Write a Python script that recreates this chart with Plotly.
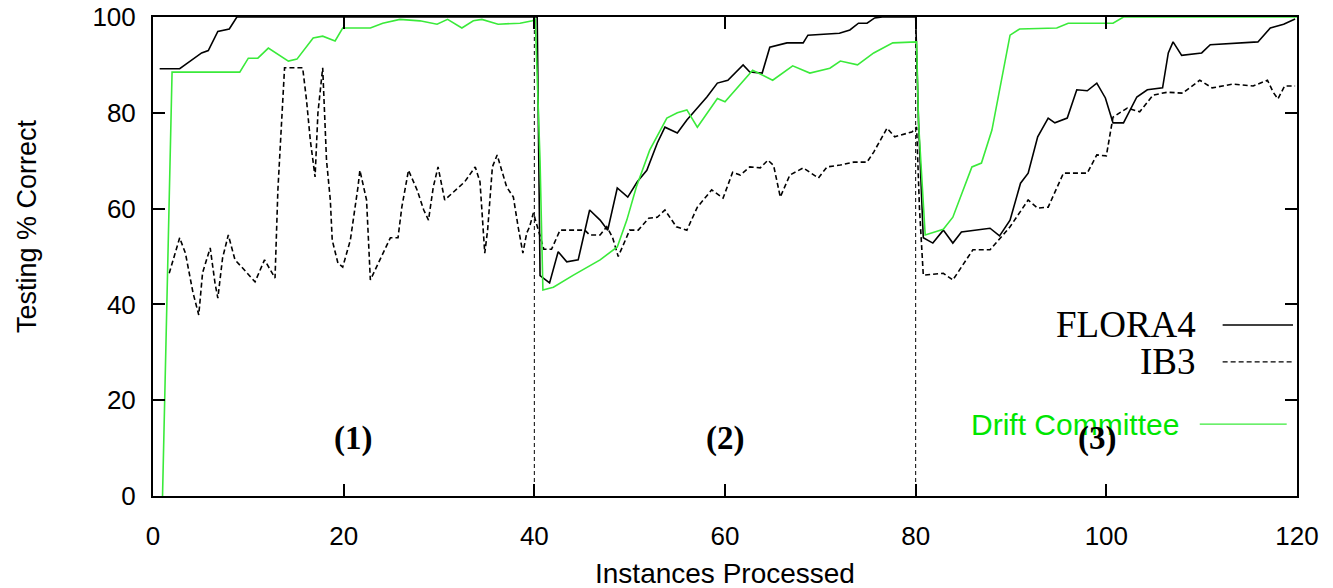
import plotly.graph_objects as go

# ---------------- data ----------------
flora_x = [0.7, 2.8, 3.5, 4.4, 5.1, 5.8, 6.8, 8, 8.8, 40, 40.3, 40.6, 41.6, 42.5, 43.4, 44.6, 45.8,
           46.9, 47.7, 48.7, 49.8, 50.8, 51.8, 52.9, 53.7, 55, 56, 58.1, 59.2, 60.3, 61.9, 62.6,
           63.9, 64.7, 66.5, 68.2, 68.7, 72, 73.1, 74, 74.9, 75.7, 76.5, 80, 80.3, 80.8, 81.8,
           82.9, 83.9, 84.8, 87.8, 88.8, 89.9, 91, 91.8, 92.8, 93.9, 94.6, 95.9, 96.9, 98, 99,
           99.9, 100.7, 101.8, 103.2, 104.3, 105.9, 106.5, 107, 107.9, 110, 110.9, 115.9, 117.2,
           118.6, 119.8]
flora_y = [89.2, 89.2, 90.2, 91.6, 92.5, 93, 97, 97.5, 100, 100, 100, 46, 44.5, 51, 48.9, 49.3, 59.7,
           57.6, 55.5, 64.3, 62.4, 65.6, 68, 73.7, 77, 75.8, 78.5, 83.3, 86.2, 86.8, 90, 88.5,
           88.3, 93.7, 94.6, 94.6, 96.2, 96.6, 97.3, 98.7, 98.7, 99.8, 100, 100, 78, 53.9, 52.8,
           55.5, 52.8, 55.1, 55.9, 54.3, 57.6, 65.3, 67.4, 75, 78.9, 77.9, 78.9, 84.8, 84.6, 86.2,
           83.1, 77.9, 77.9, 83.3, 84.8, 85.2, 92.5, 94.8, 92, 92.5, 94.2, 94.8, 97.7,
           98.5, 99.6]

ib3_x = [1.7, 2.8, 3.4, 4.2, 4.8, 5.2, 6, 6.5, 6.8, 7.3, 7.9, 8.6, 9.4, 10.7, 11.7, 12.8, 13.1,
         13.6, 13.8, 15.7, 16.1, 16.5, 17, 17.3, 17.8, 18.2, 18.6, 18.8, 19.4, 19.9, 20.7, 21.5,
         21.7, 22.4, 22.8, 23.8, 24.9, 25.7, 26.1, 26.8, 27.7, 28.4, 28.9, 29.4, 29.9, 30.6,
         31.7, 32.7, 33.8, 34.3, 34.8, 35.1, 35.6, 36.1, 37.1, 37.8, 38.3, 38.8, 39.2, 39.5,
         39.9, 40.5, 41.0, 41.8, 42.7, 45.3, 45.8, 46.9, 47.6, 48.2, 48.8, 50, 50.9, 52, 52.9,
         53.7, 54.9, 56, 57.1, 58.6, 59.8, 60.8, 61.6, 62.6, 63.7, 64.5, 65.1, 65.8, 66.8, 68.2,
         69.8, 70.7, 72.1, 73.5, 74.9, 75.6, 77, 77.8, 79.6, 80.1, 80.4, 80.8, 82.9, 83.9, 86,
         87.8, 89.9, 91.8, 92.8, 93.9, 95.5, 98, 99, 100, 100.7, 102.2, 103.5, 104.9, 106.4,
         108, 109.8, 111.1, 113.3, 115.4, 116.9, 117.5, 118, 118.7, 119.8]
ib3_y = [46.5, 53.9, 50.7, 42.4, 37.8, 46.6, 51.8, 44.5, 41.3, 49.7, 54.5, 49.3, 47.6, 44.7, 49.3,
         45.5, 63.9, 83.3, 89.4, 89.4, 82.7, 74.3, 66.6, 80, 89.4, 70.1, 61.8, 53.4, 48.6, 47.8,
         53.4, 64.5, 68, 61.8, 45.1, 49.3, 53.9, 53.9, 60.3, 68, 63.9, 59.7, 57.6, 64.5, 68.7,
         61.8, 63.9, 65.6, 68.7, 65.6, 50.7, 55.5, 68.7, 71.2, 64.5, 62.4, 56.2, 50.7, 54.9,
         56.2, 59.1, 55, 51.5, 51.5, 55.5, 55.5, 54.5, 54.5, 56.2, 54, 50, 55.5, 55.5, 58, 58.2,
         59.7, 56.2, 55.5, 60.3, 63.9, 62.2, 67.6, 67, 68.7, 68.5, 70.1, 69, 62.4, 67, 68.5,
         66.4, 68.7, 69.1, 69.7, 69.7, 71.8, 76.8, 75, 76, 77, 60, 46.1, 46.5, 45.1, 51.4,
         51.4, 56.2, 61.8, 60.1, 60.3, 67.4, 67.4, 71.2, 71, 79.1, 81, 80.2, 83.7, 84.3,
         84.1, 86.8, 85.2, 86, 85.6, 86.8, 84.3, 82.9, 85.6, 85.6]

drift_x = [1, 2, 9.1, 10, 11, 12.1, 14.2, 15.1, 16.8, 17.8, 19.1, 19.9, 22.8, 24.1, 25.9, 28,
           29.8, 30.9, 32.4, 33.6, 34.5, 36.2, 38.5, 39.8, 40.1, 40.6, 40.9, 42, 44.1, 46.9,
           48.7, 49.7, 50.7, 52.1, 53.9, 55, 56, 57.1, 59.2, 60, 62.9, 65, 67.1, 68.9, 71, 72.1,
           73.9, 75.6, 77.6, 79.6, 80.1, 80.3, 80.6, 81, 82.9, 83.9, 85.9, 86.9, 88, 89.9, 90.9,
           94.8, 96, 100.7, 101.8, 120]
drift_y = [0, 88.5, 88.5, 91.4, 91.4, 93.5, 90.8, 91.2, 95.6, 96, 95, 97.7, 97.7, 98.7, 99.5,
           99.2, 98.5, 99.5, 97.7, 99.2, 99.5, 98.5, 98.7, 99.2, 99.5, 70, 43, 43.6, 46.1, 49.3,
           52, 57.6, 64.5, 72.2, 78.9, 80, 80.6, 77, 83, 82.3, 88.9, 86.8, 89.8, 88.3, 89.3, 90.8,
           90, 92.5, 94.6, 94.8, 94.8, 78, 68.7, 54.5, 55.7, 58.2, 68.7, 69.5, 76.4, 96.2, 97.5,
           97.7, 98.7, 98.7, 100, 100]

drift_points = [40, 80]
region_labels = ["(1)", "(2)", "(3)"]
region_label_x = [21, 60, 99]
region_label_y = [12, 12, 12]

x_ticks = [0, 20, 40, 60, 80, 100, 120]
y_ticks = [0, 20, 40, 60, 80, 100]

GREEN_LINE = "#3aea3a"
GREEN_TEXT = "#00e600"

# ---------------- figure ----------------
fig = go.Figure()

fig.add_trace(go.Scatter(x=ib3_x, y=ib3_y, mode="lines", name="IB3",
                         line=dict(color="black", width=1.6, dash="5px,3px")))
fig.add_trace(go.Scatter(x=flora_x, y=flora_y, mode="lines", name="FLORA4",
                         line=dict(color="black", width=1.6)))
fig.add_trace(go.Scatter(x=drift_x, y=drift_y, mode="lines", name="Drift Committee",
                         line=dict(color=GREEN_LINE, width=1.6)))

shapes = []
for dp in drift_points:
    shapes.append(dict(type="line", xref="x", yref="y", x0=dp, x1=dp, y0=0, y1=100,
                       line=dict(color="black", width=1, dash="4px,3px"), layer="below"))

# legend samples (paper coordinates)
legend_items = [("FLORA4", "black", "black", "solid", 0.357, "serif"),
                ("IB3", "black", "black", "5px,3px", 0.280, "serif"),
                ("Drift Committee", GREEN_LINE, GREEN_TEXT, "solid", 0.150, "sans")]
annotations = []
for name, col, tcol, dash, yy, fam in legend_items:
    if fam == "serif":
        x0, x1, xt = 0.935, 0.9965, 0.9135
        font = dict(family="Liberation Serif, Times New Roman, serif", size=37, color=tcol)
    else:
        x0, x1, xt = 0.915, 0.991, 0.8986
        font = dict(family="Liberation Sans, Arial, sans-serif", size=30, color=tcol)
    shapes.append(dict(type="line", xref="paper", yref="paper", x0=x0, x1=x1, y0=yy, y1=yy,
                       line=dict(color=col, width=1.3, dash=dash)))
    annotations.append(dict(xref="paper", yref="paper", x=xt, y=yy, text=name,
                            showarrow=False, xanchor="right", yanchor="middle", font=font))

for lab, lx, ly in zip(region_labels, region_label_x, region_label_y):
    annotations.append(dict(xref="x", yref="y", x=lx, y=ly, text="<b>" + lab + "</b>",
                            showarrow=False, xanchor="center", yanchor="middle",
                            font=dict(family="Liberation Serif, Times New Roman, serif",
                                      size=33, color="black")))

annotations.append(dict(xref="paper", yref="paper", x=0.5, y=-0.161, text="Instances Processed",
                        showarrow=False, xanchor="center", yanchor="middle",
                        font=dict(family="Liberation Sans, Arial, sans-serif", size=28,
                                  color="black")))
annotations.append(dict(xref="paper", yref="paper", x=-0.110, y=0.564, text="Testing % Correct",
                        showarrow=False, xanchor="center", yanchor="middle", textangle=-90,
                        font=dict(family="Liberation Sans, Arial, sans-serif", size=27,
                                  color="black")))

axis_font = dict(family="Liberation Sans, Arial, sans-serif", size=26, color="black")

fig.update_layout(
    width=1333, height=588,
    margin=dict(l=153, r=36, t=17, b=92, autoexpand=False),
    paper_bgcolor="white", plot_bgcolor="white",
    showlegend=False,
    shapes=shapes, annotations=annotations,
    xaxis=dict(range=[0, 120], tickvals=x_ticks, ticks="inside", ticklen=12, tickwidth=2,
               tickcolor="black", showline=True, linecolor="black", linewidth=2,
               mirror="ticks", showgrid=False, zeroline=False, tickfont=axis_font,
               ticklabelstandoff=16, automargin=False),
    yaxis=dict(range=[0, 100], tickvals=y_ticks, ticks="inside", ticklen=12, tickwidth=2,
               tickcolor="black", showline=True, linecolor="black", linewidth=2,
               mirror="ticks", showgrid=False, zeroline=False, tickfont=axis_font,
               ticklabelstandoff=10, automargin=False),
)

fig.write_html("out.html")
